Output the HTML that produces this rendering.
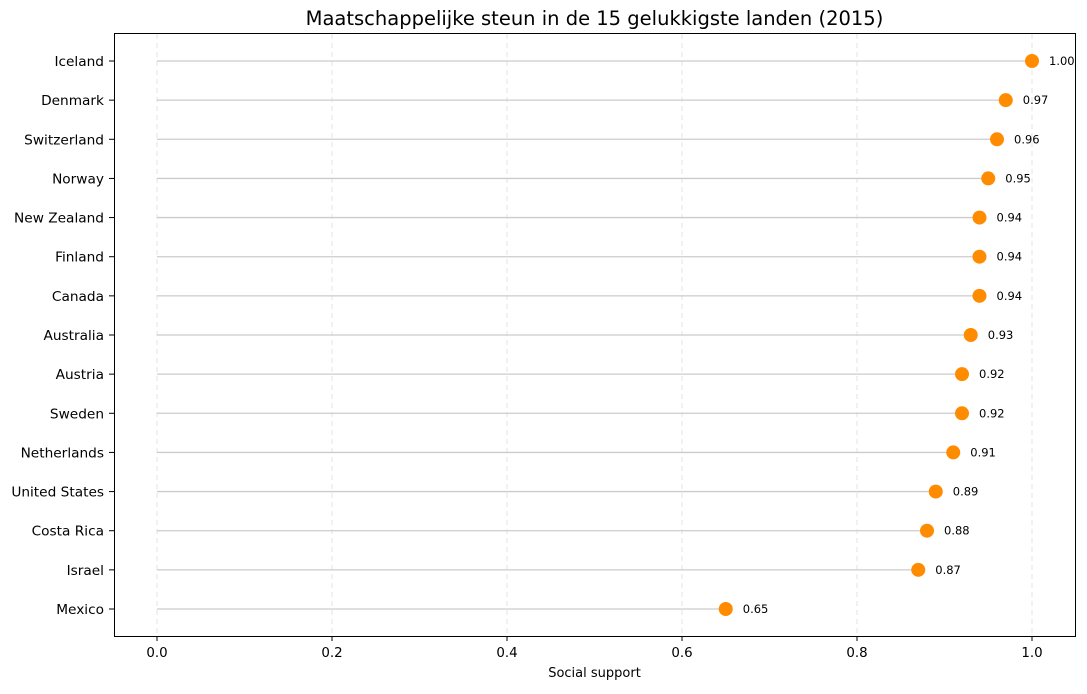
<!DOCTYPE html>
<html><head><meta charset="utf-8"><style>
body{margin:0;background:#fff;font-family:"DejaVu Sans","Liberation Sans",sans-serif;}
</style></head><body>
<svg id="chart" width="1087" height="690" xmlns="http://www.w3.org/2000/svg" font-family="DejaVu Sans, Liberation Sans, sans-serif">
<text x="594.5" y="25" text-anchor="middle" font-size="19.5">Maatschappelijke steun in de 15 gelukkigste landen (2015)</text>
<g id="grid"></g><g id="stems"></g><g id="dots"></g><g id="ylabels"></g><g id="xticks"></g>
<rect x="114.5" y="33.5" width="961" height="603" fill="none" stroke="#000" stroke-width="1"/>
<text x="594.5" y="677" text-anchor="middle" font-size="13">Social support</text>
</svg>
<script>
const countries=["Iceland","Denmark","Switzerland","Norway","New Zealand","Finland","Canada","Australia","Austria","Sweden","Netherlands","United States","Costa Rica","Israel","Mexico"];
const values=[1.00,0.97,0.96,0.95,0.94,0.94,0.94,0.93,0.92,0.92,0.91,0.89,0.88,0.87,0.65];
const xTicks=[0,0.2,0.4,0.6,0.8,1.0];
const xTickLabels=["0.0","0.2","0.4","0.6","0.8","1.0"];
const NS="http://www.w3.org/2000/svg";
const xs=v=>157+v*875;
const ys=i=>61+i*(609-61)/14;
function mk(tag,attrs,parent,text){const e=document.createElementNS(NS,tag);for(const k in attrs)e.setAttribute(k,attrs[k]);if(text!==undefined)e.textContent=text;document.getElementById(parent).appendChild(e);return e;}
xTicks.forEach((t,i)=>{
 const g=mk("line",{x1:xs(t),x2:xs(t),y1:34,y2:636,stroke:"#dddddd","stroke-dasharray":"5,4","stroke-width":0.8},"grid");
 
 
 const tk=mk("line",{x1:xs(t),x2:xs(t),y1:636,y2:641,stroke:"#000"},"xticks");
 
 
 const lb=mk("text",{x:xs(t),y:657,"text-anchor":"middle","font-size":"13.4"},"xticks",xTickLabels[i]);
 
 
});
countries.forEach((c,i)=>{
 const y=ys(i);
 const s=mk("line",{x1:xs(0),x2:xs(values[i]),y1:y,y2:y,stroke:"#cccccc","stroke-width":1.3},"stems");
 
 
 const d=mk("circle",{cx:xs(values[i]),cy:y,r:7,fill:"#ff8c00"},"dots");
 
 
 const v=mk("text",{x:xs(values[i])+17,y:y+4,"font-size":"11.5"},"dots",values[i].toFixed(2));
 
 
 const t=mk("line",{x1:109,x2:114,y1:y,y2:y,stroke:"#000"},"ylabels");
 
 
 const l=mk("text",{x:104,y:y+5,"text-anchor":"end","font-size":"13.7"},"ylabels",c);
 
 
});
</script>
</body></html>
